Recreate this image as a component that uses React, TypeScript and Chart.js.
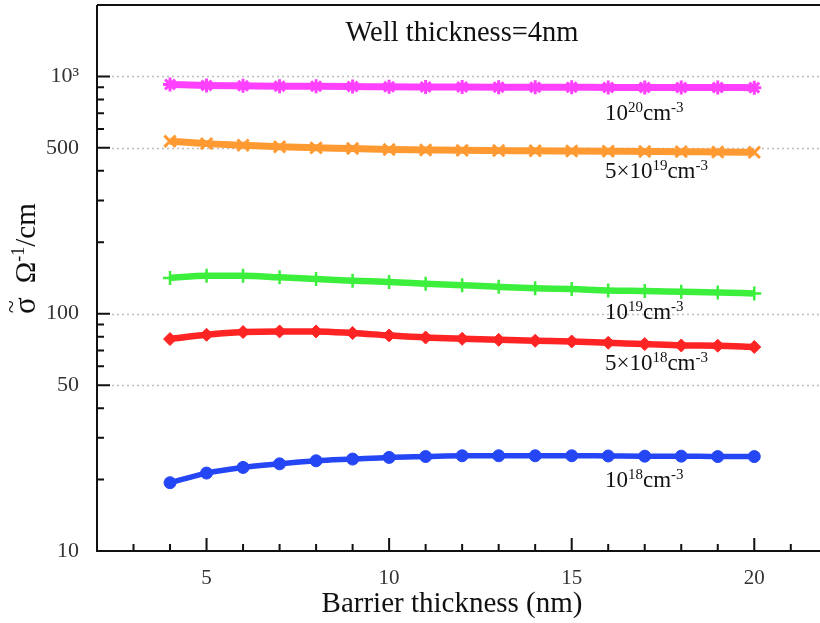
import React, { useEffect, useRef } from 'react';
import { Chart, registerables } from 'chart.js';

Chart.register(...registerables);

const barrierThickness = [4, 5, 6, 7, 8, 9, 10, 11, 12, 13, 14, 15, 16, 17, 18, 19, 20];
const sigma1e20 = [925, 916, 913, 910, 909, 907, 904, 903, 902, 901, 900, 900, 899, 899, 898, 898, 897];
const sigma5e19 = [533, 521, 513, 505, 500, 497, 492, 490, 488, 487, 486, 485, 484, 483, 482, 480, 479];
const sigma1e19 = [141.5, 144.6, 144.6, 142.3, 140.1, 137.8, 136.1, 133.9, 131.8, 129.8, 128.1, 127.0, 125.4, 124.7, 123.8, 123.0, 121.8];
const sigma5e18 = [78.2, 81.5, 83.7, 84.2, 84.2, 82.9, 81.0, 79.4, 78.4, 77.6, 76.9, 76.4, 75.4, 74.5, 73.5, 73.3, 72.4];
const sigma1e18 = [19.4, 21.3, 22.5, 23.3, 24.0, 24.4, 24.8, 25.0, 25.2, 25.2, 25.2, 25.2, 25.15, 25.1, 25.1, 25.0, 25.0];

const xMajorTicks = [5, 10, 15, 20];
const xMinorTicks = [3, 4, 6, 7, 8, 9, 11, 12, 13, 14, 16, 17, 18, 19, 21];
const yMajorTicks = [10, 50, 100, 500, 1000];
const yTickLabels = ['10', '50', '100', '500', '10³'];
const yMinorTicks = [20, 30, 40, 60, 70, 80, 90, 200, 300, 400, 600, 700, 800, 900];
const yGridValues = [50, 100, 500, 1000];

const titleText = 'Well thickness=4nm';
const xTitleText = 'Barrier thickness (nm)';

type Seg = { t: string; sup?: boolean };
const seriesLabels: Seg[][] = [
  [{ t: '10' }, { t: '20', sup: true }, { t: 'cm' }, { t: '-3', sup: true }],
  [{ t: '5×10' }, { t: '19', sup: true }, { t: 'cm' }, { t: '-3', sup: true }],
  [{ t: '10' }, { t: '19', sup: true }, { t: 'cm' }, { t: '-3', sup: true }],
  [{ t: '5×10' }, { t: '18', sup: true }, { t: 'cm' }, { t: '-3', sup: true }],
  [{ t: '10' }, { t: '18', sup: true }, { t: 'cm' }, { t: '-3', sup: true }],
];
const yTitleSegs: Seg[] = [{ t: 'Ω' }, { t: '-1', sup: true }, { t: '/cm' }];

const FAMILY = '"Liberation Serif", "Times New Roman", serif';

function drawRich(ctx: CanvasRenderingContext2D, segs: Seg[], x: number, y: number, size: number, supSize: number, rise: number) {
  let cx = x;
  for (const s of segs) {
    ctx.font = `${s.sup ? supSize : size}px ${FAMILY}`;
    ctx.fillText(s.t, cx, s.sup ? y - rise : y);
    cx += ctx.measureText(s.t).width;
  }
  return cx - x;
}

const labelOffsets = [33, 27, 29, 27, 31];

const decorPlugin = {
  id: 'decor',
  beforeDatasetsDraw(chart: any) {
    const { ctx, chartArea } = chart;
    const ys = chart.scales.y;
    ctx.save();
    ctx.strokeStyle = '#bdbdbd';
    ctx.lineWidth = 1.5;
    ctx.setLineDash([2, 3]);
    for (const v of yGridValues) {
      const py = Math.round(ys.getPixelForValue(v)) + 0.5;
      ctx.beginPath();
      ctx.moveTo(chartArea.left + 15, py);
      ctx.lineTo(chartArea.right, py);
      ctx.stroke();
    }
    ctx.restore();
  },
  afterDatasetsDraw(chart: any) {
    const { ctx, chartArea } = chart;
    const xs = chart.scales.x;
    const ys = chart.scales.y;
    ctx.save();
    ctx.strokeStyle = '#111';
    ctx.lineWidth = 2;
    ctx.setLineDash([]);
    // frame
    ctx.beginPath();
    ctx.moveTo(chartArea.left, chartArea.top);
    ctx.lineTo(chartArea.right, chartArea.top);
    ctx.moveTo(chartArea.left, chartArea.top);
    ctx.lineTo(chartArea.left, chartArea.bottom);
    ctx.lineTo(chartArea.right, chartArea.bottom);
    ctx.stroke();
    // ticks
    ctx.beginPath();
    for (const v of xMajorTicks) {
      const px = xs.getPixelForValue(v);
      ctx.moveTo(px, chartArea.bottom);
      ctx.lineTo(px, chartArea.bottom - 13);
    }
    for (const v of xMinorTicks) {
      const px = xs.getPixelForValue(v);
      ctx.moveTo(px, chartArea.bottom);
      ctx.lineTo(px, chartArea.bottom - 7);
    }
    for (const v of yMajorTicks) {
      const py = ys.getPixelForValue(v);
      ctx.moveTo(chartArea.left, py);
      ctx.lineTo(chartArea.left + 13, py);
    }
    for (const v of yMinorTicks) {
      const py = ys.getPixelForValue(v);
      ctx.moveTo(chartArea.left, py);
      ctx.lineTo(chartArea.left + 7, py);
    }
    ctx.stroke();

    ctx.fillStyle = '#111';
    ctx.textBaseline = 'alphabetic';
    ctx.textAlign = 'left';
    // title
    ctx.font = `28.5px ${FAMILY}`;
    const tw = ctx.measureText(titleText).width;
    ctx.fillText(titleText, 462 - tw / 2, 41);
    // x title
    ctx.font = `29px ${FAMILY}`;
    const xw = ctx.measureText(xTitleText).width;
    ctx.fillText(xTitleText, 452 - xw / 2, 612);
    // series labels
    const lx = xs.getPixelForValue(15.91);
    const series = [sigma1e20, sigma5e19, sigma1e19, sigma5e18, sigma1e18];
    series.forEach((arr, i) => {
      const py = ys.getPixelForValue(arr[12]) + labelOffsets[i];
      drawRich(ctx, seriesLabels[i], lx, py, 23, 15, 8);
    });
    // y title (rotated): sigma with tilde, space, then Ω^-1/cm
    ctx.translate(35, 314);
    ctx.rotate(-Math.PI / 2);
    ctx.font = `31px ${FAMILY}`;
    const sw = ctx.measureText('σ').width;
    ctx.fillText('σ', 0, 0);
    ctx.font = `24px ${FAMILY}`;
    const tldw = ctx.measureText('~').width;
    ctx.fillText('~', sw / 2 - tldw / 2 - 1, -16);
    drawRich(ctx, yTitleSegs, sw + 14, 0, 29, 18, 11);
    ctx.restore();
  },
};

function mkDs(data: number[], color: string, style: string, radius: number, lw: number, pbw: number) {
  return {
    data: barrierThickness.map((x, i) => ({ x, y: data[i] })),
    borderColor: color,
    backgroundColor: color,
    pointBackgroundColor: color,
    pointBorderColor: color,
    pointStyle: style,
    pointRadius: radius,
    pointBorderWidth: pbw,
    borderWidth: lw,
    cubicInterpolationMode: 'monotone',
    fill: false,
  };
}

const zeroPad = (s: any) => {
  s.paddingTop = 0;
  s.paddingBottom = 0;
  s.paddingLeft = 0;
  s.paddingRight = 0;
};

export default function App() {
  const ref = useRef<HTMLCanvasElement>(null);
  useEffect(() => {
    if (!ref.current) return;
    const chart = new Chart(ref.current, {
      type: 'line',
      data: {
        datasets: [
          mkDs(sigma1e20, '#ff40ff', 'star', 7, 7, 3),
          mkDs(sigma5e19, '#ff9a33', 'crossRot', 8, 7, 3),
          mkDs(sigma1e19, '#3cef3c', 'cross', 7, 6.5, 2.5),
          mkDs(sigma5e18, '#ff2424', 'rectRot', 6.5, 6.5, 1),
          mkDs(sigma1e18, '#2446f5', 'circle', 6, 5.5, 1),
        ] as any,
      },
      options: {
        animation: false,
        responsive: false,
        layout: { autoPadding: false, padding: { top: 5, left: 0, right: 0, bottom: 0 } },
        plugins: { legend: { display: false }, tooltip: { enabled: false }, title: { display: false } },
        scales: {
          x: {
            type: 'linear',
            min: 2,
            max: 21.8,
            grid: { display: false },
            border: { display: false },
            afterBuildTicks: (s: any) => { s.ticks = xMajorTicks.map((v) => ({ value: v })); },
            afterFit: (s: any) => { s.height = 72; zeroPad(s); },
            ticks: {
              autoSkip: false,
              maxRotation: 0,
              padding: 7,
              color: '#333',
              font: { family: FAMILY, size: 21 },
              callback: (v: any) => String(v),
            },
          },
          y: {
            type: 'logarithmic',
            min: 10,
            max: 2000,
            grid: { display: false },
            border: { display: false },
            afterBuildTicks: (s: any) => { s.ticks = yMajorTicks.map((v) => ({ value: v })); },
            afterFit: (s: any) => { s.width = 97; zeroPad(s); },
            ticks: {
              autoSkip: false,
              padding: 10,
              color: '#333',
              font: { family: FAMILY, size: 22 },
              callback: (v: any) => {
                const i = yMajorTicks.indexOf(Number(v));
                return i >= 0 ? yTickLabels[i] : '';
              },
            },
          },
        },
      } as any,
      plugins: [decorPlugin],
    });
    return () => chart.destroy();
  }, []);
  return (
    <div style={{ position: 'fixed', left: 0, top: 0, width: 820, height: 623, background: '#fff' }}>
      <canvas ref={ref} width={820} height={623} style={{ width: 820, height: 623 }} />
    </div>
  );
}
